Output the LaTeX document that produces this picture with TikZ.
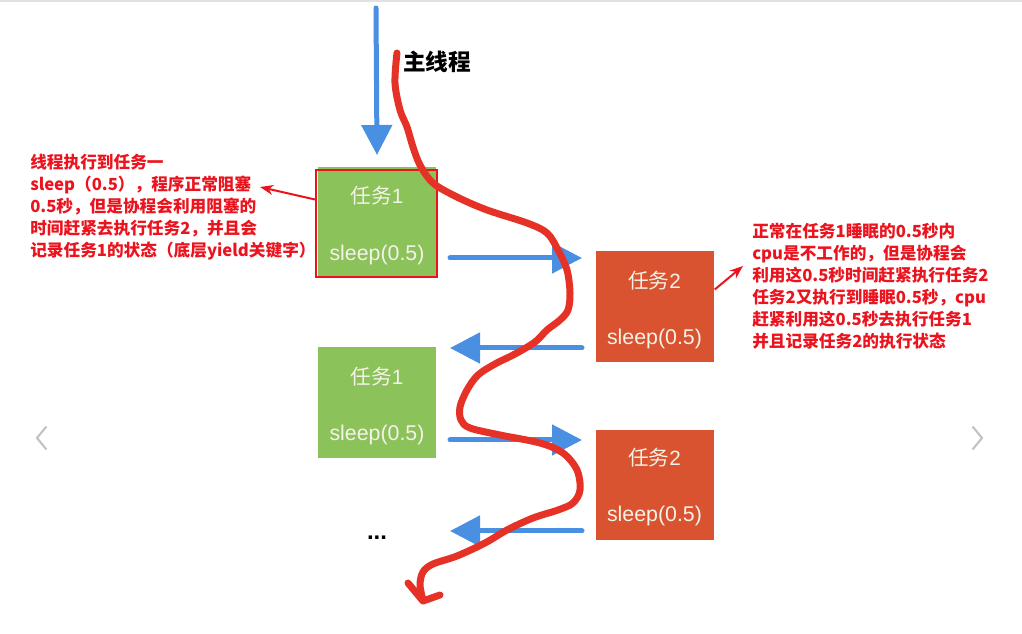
\documentclass[tikz,border=0pt]{standalone}
\usepackage{fontspec}
\setmainfont{Liberation Sans}
\newfontfamily\cjk{Noto Sans CJK SC}
\usetikzlibrary{arrows.meta,calc}
\definecolor{taskgreen}{RGB}{140,194,90}
\definecolor{taskred}{RGB}{217,83,48}
\definecolor{flowblue}{RGB}{74,144,226}
\definecolor{threadred}{RGB}{230,50,38}
\definecolor{notered}{RGB}{235,20,30}
\definecolor{boxtext}{RGB}{245,242,232}
\definecolor{chev}{RGB}{195,195,195}
\definecolor{topline}{RGB}{225,225,228}
\begin{document}
\begin{tikzpicture}[x=0.75pt,y=-0.75pt,
  task/.style={minimum width=88.5pt,minimum height=83pt,inner sep=0pt,draw=none},
  tone/.style={task,fill=taskgreen},
  ttwo/.style={task,fill=taskred},
  tname/.style={text=boxtext,font=\fontsize{15.5}{15.5}\selectfont,inner sep=0pt},
  tsleep/.style={text=boxtext,font=\fontsize{16}{16}\selectfont,inner sep=0pt},
  flow/.style={draw=flowblue,line width=3.75pt,line cap=round,-{Triangle[length=22.5pt,width=22.5pt]}},
  note/.style={text=notered,font=\cjk\bfseries\fontsize{12.5}{16.5}\selectfont,align=left,anchor=north west,inner sep=0pt},
  pointer/.style={draw=notered,line width=1.5pt,-{Stealth[length=10pt,width=7.5pt]}},
  thread/.style={draw=threadred,line width=5.25pt,line cap=round,line join=round},
  chevron/.style={draw=chev,line width=1.6pt,line cap=round},
]
\fill[white] (0,0) rectangle (1022,634);
\useasboundingbox (0,0) rectangle (1022,634);
\draw[topline,line width=1.5pt] (0,1) -- (1022,1);

% task boxes
\node[tone] (A) at (377,222) {};
\node[ttwo] (B) at (654.5,306.5) {};
\node[tone] (C) at (377,402.5) {};
\node[ttwo] (D) at (654.5,485) {};

\node[tname] (An) at ($(A)+(0,-26)$) {{\cjk 任务}1};
\node[tsleep] (As) at ($(A)+(0,33)$) {sleep(0.5)};
\node[tname] (Bn) at ($(B)+(0,-26)$) {{\cjk 任务}2};
\node[tsleep] (Bs) at ($(B)+(0,32)$) {sleep(0.5)};
\node[tname] (Cn) at ($(C)+(0,-26)$) {{\cjk 任务}1};
\node[tsleep] (Cs) at ($(C)+(0,32)$) {sleep(0.5)};
\node[tname] (Dn) at ($(D)+(0,-27)$) {{\cjk 任务}2};
\node[tsleep] (Ds) at ($(D)+(0,31)$) {sleep(0.5)};

\node[draw=notered,line width=1.5pt,minimum width=90.75pt,minimum height=80.25pt,inner sep=0pt] (H) at (376.5,223.5) {};

% main thread arrow and label
\coordinate (m0) at (376,8);
\coordinate (m1) at (377,155);
\draw[flow] (m0) -- (m1);
\node[font=\cjk\bfseries\fontsize{17}{17}\selectfont,anchor=west,inner sep=0pt] (main) at (403,62) {主线程};

% switching arrows
\coordinate (f1s) at (450,258); \coordinate (f1e) at (582,258);
\coordinate (f2s) at (582,348); \coordinate (f2e) at (450,348);
\coordinate (f3s) at (450,440); \coordinate (f3e) at (582,440);
\coordinate (f4s) at (582,531); \coordinate (f4e) at (450,531);
\draw[flow] (f1s) -- (f1e);
\draw[flow] (f2s) -- (f2e);
\draw[flow] (f3s) -- (f3e);
\draw[flow] (f4s) -- (f4e);

\node[font=\bfseries\fontsize{18}{18}\selectfont,inner sep=0pt] (dots) at (377,538) {...};

% red thread
\draw[thread] plot[smooth,tension=0.55] coordinates {(397,53) (395,83) (400,110) (407,127) (413,147) (420,165) (433,183) (457,197) (487,210) (527,223) (547,233) (558,250) (567,270) (570,293) (568,310) (560,320) (547,330) (535,342) (515,354) (495,364) (478,375) (467,390) (460,407) (461,420) (470,428) (500,435) (540,443) (563,453) (577,470) (580,490) (573,503) (558,510) (533,518) (507,530) (485,543) (457,556) (433,564) (423,572) (420,585) (423,600)};
\coordinate (hl) at (408,583);
\coordinate (tEnd) at (423,601);
\coordinate (hr) at (440,595);
\draw[thread] (hl) -- (tEnd) -- (hr);

% notes
\node[note] (N1) at (30,154) {线程执行到任务一\\sleep（0.5），程序正常阻塞\\0.5秒，但是协程会利用阻塞的\\时间赶紧去执行任务2，并且会\\记录任务1的状态（底层yield关键字）};
\node[note] (N2) at (752,223) {正常在任务1睡眠的0.5秒内\\cpu是不工作的，但是协程会\\利用这0.5秒时间赶紧执行任务2\\任务2又执行到睡眠0.5秒，cpu\\赶紧利用这0.5秒去执行任务1\\并且记录任务2的执行状态};

\coordinate (p1) at (260,187);
\coordinate (p2) at (743,266);
\draw[pointer] ($(H.west)+(0,-24)$) -- (p1);
\draw[pointer] ($(B.east)+(1,-17)$) -- (p2);

% carousel chevrons
\coordinate (cl) at (37,438);
\coordinate (cr) at (982,438);
\draw[chevron] ($(cl)+(9,-11)$) -- (cl) -- ($(cl)+(9,11)$);
\draw[chevron] ($(cr)+(-9,-11)$) -- (cr) -- ($(cr)+(-9,11)$);
\end{tikzpicture}
\end{document}
